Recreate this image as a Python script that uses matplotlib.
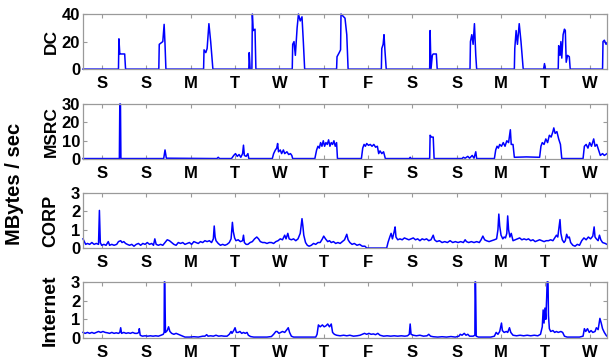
import matplotlib

matplotlib.use("Agg")
import matplotlib.pyplot as plt

plt.rcParams["font.family"] = ["Liberation Sans Narrow", "Liberation Sans", "DejaVu Sans"]
plt.rcParams["font.weight"] = "bold"

# day labels, one per day, starting on a Saturday
DAYS = ["S", "S", "M", "T", "W", "T", "F", "S", "S", "M", "T", "W"]
FIRST_TICK = 0.43   # position of first day tick (in days)
X_END = 11.82       # end of the trace (in days)

# (time in days, MBytes/sec)
DC = [(0, 0), (0.80, 0), (0.81, 22), (0.83, 11), (0.85, 11), (0.94, 11), (0.96, 0),
      (1.71, 0), (1.72, 18), (1.76, 19), (1.80, 20), (1.83, 32.5), (1.85, 18), (1.87, 0),
      (2.72, 0), (2.73, 14), (2.77, 12), (2.80, 15), (2.84, 33), (2.88, 20), (2.93, 0),
      (3.74, 0), (3.75, 12), (3.77, 0), (3.81, 0), (3.82, 40), (3.84, 28), (3.88, 29), (3.90, 0),
      (4.72, 0), (4.73, 18), (4.76, 20), (4.79, 10), (4.83, 30), (4.86, 40), (4.90, 35),
      (4.94, 38), (4.97, 20), (5.00, 0),
      (5.72, 0), (5.73, 9), (5.78, 12), (5.81, 14), (5.82, 40), (5.88, 38), (5.91, 37),
      (5.95, 25), (5.98, 0),
      (6.73, 0), (6.74, 15), (6.77, 18), (6.79, 25), (6.81, 14), (6.84, 0),
      (7.82, 0), (7.83, 28), (7.85, 0), (7.88, 10), (7.90, 11), (7.97, 11), (7.99, 0),
      (8.73, 0), (8.74, 20), (8.77, 25), (8.80, 18), (8.83, 33), (8.86, 10), (8.88, 0),
      (9.73, 0), (9.74, 15), (9.77, 28), (9.80, 18), (9.84, 33), (9.88, 20), (9.93, 0),
      (10.39, 0), (10.41, 4), (10.43, 0),
      (10.72, 0), (10.73, 17), (10.76, 10), (10.78, 20), (10.80, 8), (10.83, 25), (10.86, 29),
      (10.88, 28), (10.90, 5), (10.93, 10), (10.97, 9), (10.99, 0),
      (11.72, 0), (11.73, 20), (11.76, 21), (11.80, 18), (11.82, 19)]

MSRC = [(0, 0.3), (0.82, 0.3), (0.83, 30), (0.845, 30), (0.855, 0.3), (1.82, 0.3), (1.85, 5),
        (1.88, 0.5), (3.02, 0.3), (3.05, 1.0), (3.08, 0.3), (3.35, 0.3), (3.40, 2), (3.44, 3),
        (3.48, 1.5), (3.52, 2.5), (3.56, 1), (3.60, 3), (3.62, 7.6), (3.64, 2), (3.68, 1.5),
        (3.72, 3), (3.74, 0.3), (4.27, 0.3), (4.30, 3), (4.34, 5), (4.37, 6), (4.39, 8.5),
        (4.41, 4), (4.45, 5), (4.48, 3), (4.52, 5), (4.55, 3), (4.60, 4), (4.64, 2.5),
        (4.68, 3), (4.71, 2), (4.73, 0.3), (5.23, 0.3), (5.27, 5), (5.30, 7), (5.33, 6),
        (5.36, 9), (5.39, 7), (5.42, 10), (5.45, 7), (5.48, 9), (5.51, 8), (5.54, 10.5),
        (5.57, 7), (5.60, 9), (5.63, 8), (5.66, 10), (5.69, 7), (5.72, 9), (5.74, 0.3),
        (6.28, 0.3), (6.31, 6), (6.34, 8), (6.37, 7), (6.40, 8.5), (6.44, 7.5), (6.48, 8),
        (6.52, 7), (6.56, 8), (6.60, 6.5), (6.64, 7), (6.67, 3), (6.70, 4.5), (6.74, 3),
        (6.78, 4), (6.82, 0.3), (7.36, 0.3), (7.38, 1), (7.40, 0.3), (7.82, 0.3), (7.83, 13),
        (7.86, 12), (7.90, 12), (7.92, 0.3), (8.55, 0.3), (8.58, 1), (8.62, 0.5), (8.68, 1.5),
        (8.72, 0.5), (8.78, 2), (8.82, 0.5), (8.86, 4), (8.88, 0.3), (9.28, 0.3), (9.31, 5),
        (9.34, 7), (9.37, 6), (9.40, 8), (9.44, 7), (9.48, 9), (9.52, 7), (9.56, 10),
        (9.60, 9), (9.64, 16), (9.66, 8), (9.70, 8), (9.73, 1), (10.00, 1.2), (10.30, 1),
        (10.33, 7), (10.36, 9), (10.40, 8), (10.44, 11), (10.48, 9), (10.52, 13), (10.56, 12),
        (10.60, 15), (10.62, 17), (10.65, 14), (10.69, 15), (10.73, 11), (10.77, 8),
        (10.80, 0.3), (11.28, 0.3), (11.31, 7), (11.35, 8), (11.39, 6), (11.43, 9),
        (11.47, 7), (11.52, 11), (11.55, 7), (11.59, 8), (11.63, 5), (11.67, 2), (11.72, 3),
        (11.76, 2), (11.82, 3)]

CORP = [(0, 0.5), (0.03, 0.35), (0.06, 0.2), (0.1, 0.25), (0.15, 0.2), (0.2, 0.3), (0.25, 0.2),
        (0.3, 0.25), (0.35, 0.2), (0.37, 2.05), (0.39, 0.3), (0.42, 0.15), (0.47, 0.2),
        (0.52, 0.15), (0.57, 0.35), (0.6, 0.15), (0.65, 0.2), (0.7, 0.15), (0.76, 0.2),
        (0.8, 0.35), (0.85, 0.4), (0.88, 0.3), (0.92, 0.35), (0.96, 0.25), (1.0, 0.2),
        (1.05, 0.15), (1.1, 0.2), (1.15, 0.1), (1.2, 0.2), (1.25, 0.25), (1.3, 0.15),
        (1.35, 0.25), (1.4, 0.2), (1.45, 0.3), (1.5, 0.2), (1.55, 0.25), (1.59, 0.15),
        (1.62, 0.5), (1.65, 0.2), (1.7, 0.15), (1.75, 0.2), (1.8, 0.15), (1.85, 0.3),
        (1.9, 0.45), (1.95, 0.4), (2.0, 0.3), (2.05, 0.2), (2.1, 0.15), (2.15, 0.3),
        (2.2, 0.25), (2.25, 0.3), (2.3, 0.2), (2.35, 0.25), (2.4, 0.3), (2.45, 0.2),
        (2.5, 0.35), (2.55, 0.3), (2.6, 0.25), (2.65, 0.35), (2.7, 0.3), (2.75, 0.4),
        (2.8, 0.35), (2.85, 0.4), (2.9, 0.3), (2.94, 0.5), (2.96, 1.2), (2.98, 0.6),
        (3.0, 0.4), (3.05, 0.25), (3.1, 0.15), (3.15, 0.2), (3.2, 0.15), (3.25, 0.2),
        (3.3, 0.3), (3.34, 0.5), (3.37, 1.4), (3.39, 0.9), (3.42, 0.55), (3.45, 0.4),
        (3.5, 0.45), (3.55, 0.35), (3.6, 0.4), (3.62, 0.7), (3.64, 0.3), (3.68, 0.2),
        (3.72, 0.2), (3.77, 0.3), (3.82, 0.35), (3.87, 0.5), (3.92, 0.6), (3.96, 0.5),
        (4.0, 0.35), (4.05, 0.3), (4.1, 0.3), (4.15, 0.25), (4.2, 0.3), (4.25, 0.3),
        (4.3, 0.25), (4.35, 0.35), (4.4, 0.4), (4.45, 0.5), (4.5, 0.45), (4.55, 0.7),
        (4.58, 0.5), (4.62, 0.8), (4.65, 0.5), (4.7, 0.45), (4.75, 0.5), (4.8, 0.4),
        (4.85, 0.5), (4.9, 0.8), (4.94, 1.6), (4.96, 1.2), (4.98, 0.7), (5.02, 0.3),
        (5.06, 0.15), (5.1, 0.1), (5.15, 0.15), (5.2, 0.25), (5.25, 0.2), (5.3, 0.3),
        (5.35, 0.3), (5.40, 0.5), (5.43, 0.65), (5.47, 0.5), (5.52, 0.35), (5.56, 0.4),
        (5.6, 0.3), (5.65, 0.35), (5.7, 0.25), (5.75, 0.3), (5.8, 0.25), (5.85, 0.35),
        (5.9, 0.45), (5.95, 0.75), (5.98, 0.45), (6.02, 0.3), (6.07, 0.2), (6.12, 0.25),
        (6.18, 0.15), (6.24, 0.2), (6.3, 0.1), (6.36, 0.1), (6.40, 0.0), (6.85, 0.0),
        (6.88, 0.3), (6.92, 0.6), (6.95, 0.8), (6.98, 0.5), (7.02, 0.9), (7.04, 1.15),
        (7.06, 0.6), (7.1, 0.45), (7.15, 0.5), (7.2, 0.45), (7.25, 0.55), (7.3, 0.5),
        (7.35, 0.45), (7.4, 0.5), (7.45, 0.55), (7.5, 0.45), (7.55, 0.5), (7.6, 0.4),
        (7.65, 0.5), (7.7, 0.45), (7.75, 0.5), (7.8, 0.4), (7.85, 0.45), (7.9, 0.7),
        (7.93, 0.45), (7.98, 0.35), (8.04, 0.4), (8.1, 0.3), (8.16, 0.35), (8.22, 0.3),
        (8.28, 0.4), (8.34, 0.3), (8.4, 0.35), (8.46, 0.3), (8.52, 0.35), (8.58, 0.3),
        (8.62, 0.45), (8.65, 0.35), (8.7, 0.3), (8.76, 0.35), (8.82, 0.3), (8.88, 0.35),
        (8.94, 0.3), (8.98, 0.45), (9.02, 0.65), (9.06, 0.45), (9.1, 0.4), (9.16, 0.35),
        (9.22, 0.4), (9.28, 0.45), (9.33, 0.5), (9.36, 1.0), (9.38, 1.85), (9.40, 1.2),
        (9.43, 0.7), (9.47, 0.5), (9.5, 0.6), (9.53, 0.55), (9.56, 0.8), (9.58, 1.75),
        (9.60, 1.0), (9.63, 0.6), (9.66, 0.8), (9.7, 0.4), (9.75, 0.45), (9.8, 0.5),
        (9.85, 0.55), (9.9, 0.45), (9.95, 0.5), (10.0, 0.45), (10.05, 0.5), (10.1, 0.4),
        (10.15, 0.45), (10.2, 0.35), (10.25, 0.4), (10.3, 0.45), (10.35, 0.4), (10.4, 0.35),
        (10.45, 0.4), (10.5, 0.4), (10.55, 0.45), (10.6, 0.4), (10.64, 0.55), (10.68, 0.7),
        (10.71, 0.6), (10.74, 1.2), (10.76, 1.55), (10.78, 0.8), (10.81, 0.45), (10.85, 0.3),
        (10.88, 0.4), (10.91, 0.75), (10.94, 0.55), (10.97, 0.6), (11.0, 0.3), (11.05, 0.15),
        (11.1, 0.1), (11.15, 0.2), (11.2, 0.15), (11.25, 0.4), (11.3, 0.55), (11.35, 0.45),
        (11.4, 0.6), (11.45, 0.5), (11.5, 0.65), (11.53, 1.15), (11.55, 0.6), (11.58, 0.5),
        (11.62, 0.4), (11.65, 0.7), (11.68, 0.45), (11.72, 0.3), (11.78, 0.25), (11.82, 0.2)]

INTERNET = [(0, 0.3), (0.05, 0.25), (0.1, 0.3), (0.15, 0.25), (0.2, 0.3), (0.25, 0.25),
            (0.3, 0.3), (0.35, 0.35), (0.4, 0.3), (0.45, 0.35), (0.5, 0.3), (0.55, 0.28),
            (0.6, 0.25), (0.65, 0.3), (0.7, 0.25), (0.75, 0.28), (0.8, 0.25), (0.83, 0.3),
            (0.85, 0.55), (0.87, 0.25), (0.92, 0.3), (0.97, 0.25), (1.02, 0.28), (1.07, 0.25),
            (1.12, 0.3), (1.17, 0.25), (1.22, 0.25), (1.26, 0.3), (1.27, 0.5), (1.29, 0.15),
            (1.34, 0.1), (1.4, 0.12), (1.46, 0.1), (1.52, 0.12), (1.58, 0.1), (1.64, 0.12),
            (1.7, 0.1), (1.76, 0.15), (1.81, 0.2), (1.83, 0.3), (1.835, 3.0), (1.845, 3.0),
            (1.86, 0.3), (1.9, 0.4), (1.93, 0.6), (1.96, 0.35), (2.0, 0.25), (2.05, 0.2),
            (2.1, 0.25), (2.15, 0.2), (2.2, 0.15), (2.25, 0.1), (2.3, 0.05), (2.4, 0.05),
            (2.5, 0.07), (2.6, 0.05), (2.7, 0.1), (2.75, 0.1), (2.79, 0.18), (2.82, 0.1),
            (2.88, 0.12), (2.94, 0.1), (3.0, 0.15), (3.06, 0.1), (3.12, 0.12), (3.18, 0.1),
            (3.25, 0.1), (3.3, 0.2), (3.34, 0.35), (3.36, 0.25), (3.4, 0.4), (3.43, 0.55),
            (3.46, 0.3), (3.5, 0.3), (3.54, 0.35), (3.58, 0.25), (3.62, 0.3), (3.66, 0.25),
            (3.7, 0.3), (3.73, 0.15), (3.78, 0.08), (3.85, 0.05), (4.0, 0.05), (4.15, 0.05),
            (4.25, 0.08), (4.3, 0.2), (4.35, 0.35), (4.38, 0.35), (4.42, 0.25), (4.46, 0.3),
            (4.5, 0.35), (4.55, 0.3), (4.6, 0.45), (4.63, 0.55), (4.66, 0.3), (4.7, 0.1),
            (4.75, 0.05), (4.85, 0.05), (5.0, 0.05), (5.15, 0.05), (5.25, 0.05), (5.28, 0.2),
            (5.31, 0.7), (5.35, 0.6), (5.4, 0.7), (5.44, 0.6), (5.48, 0.65), (5.52, 0.75),
            (5.56, 0.6), (5.6, 0.75), (5.63, 0.3), (5.67, 0.2), (5.72, 0.15), (5.8, 0.12),
            (5.88, 0.15), (5.95, 0.12), (6.02, 0.15), (6.1, 0.1), (6.18, 0.12), (6.25, 0.15),
            (6.3, 0.2), (6.35, 0.25), (6.4, 0.2), (6.45, 0.25), (6.5, 0.2), (6.55, 0.22),
            (6.6, 0.18), (6.65, 0.25), (6.7, 0.15), (6.78, 0.1), (6.86, 0.12), (6.94, 0.1),
            (7.02, 0.12), (7.1, 0.1), (7.18, 0.12), (7.26, 0.1), (7.32, 0.12), (7.36, 0.2),
            (7.38, 0.75), (7.40, 0.2), (7.45, 0.15), (7.52, 0.12), (7.6, 0.15), (7.68, 0.1),
            (7.76, 0.12), (7.8, 0.2), (7.84, 0.1), (7.9, 0.07), (8.0, 0.05), (8.1, 0.07),
            (8.2, 0.05), (8.3, 0.08), (8.4, 0.05), (8.48, 0.1), (8.51, 0.2), (8.55, 0.15),
            (8.6, 0.25), (8.64, 0.15), (8.68, 0.2), (8.72, 0.1), (8.8, 0.1), (8.84, 0.15),
            (8.845, 3.0), (8.855, 3.0), (8.87, 0.1), (8.92, 0.05), (9.05, 0.05), (9.2, 0.05),
            (9.28, 0.1), (9.32, 0.3), (9.36, 0.2), (9.4, 0.35), (9.44, 0.8), (9.46, 0.4),
            (9.5, 0.3), (9.55, 0.35), (9.58, 0.3), (9.62, 0.55), (9.65, 0.3), (9.7, 0.15),
            (9.78, 0.12), (9.86, 0.15), (9.94, 0.12), (10.02, 0.15), (10.1, 0.12),
            (10.18, 0.15), (10.26, 0.12), (10.32, 0.2), (10.36, 0.6), (10.38, 1.5),
            (10.40, 0.8), (10.42, 1.6), (10.44, 1.0), (10.46, 2.2), (10.47, 3.0), (10.49, 3.0),
            (10.50, 1.2), (10.52, 0.5), (10.55, 0.35), (10.6, 0.4), (10.64, 0.3), (10.68, 0.35),
            (10.72, 0.3), (10.78, 0.35), (10.82, 0.3), (10.86, 0.1), (10.92, 0.05),
            (11.05, 0.05), (11.2, 0.05), (11.28, 0.1), (11.31, 0.5), (11.34, 0.35),
            (11.38, 0.5), (11.42, 0.3), (11.46, 0.4), (11.5, 0.3), (11.55, 0.35), (11.58, 0.55),
            (11.62, 0.45), (11.66, 1.05), (11.69, 0.8), (11.72, 0.5), (11.76, 0.3),
            (11.8, 0.15), (11.82, 0.1)]

# name, series, y max, y ticks, label size
PANELS = [
    ("DC", DC, 40, [0, 20, 40], 12.5),
    ("MSRC", MSRC, 30, [0, 10, 20, 30], 12.5),
    ("CORP", CORP, 3, [0, 1, 2, 3], 13),
    ("Internet", INTERNET, 3, [0, 1, 2, 3], 14),
]
# axes boxes [left, bottom, width, height] in figure fractions
BOXES = [
    [0.1363, 0.808, 0.8604, 0.153],
    [0.1363, 0.558, 0.8604, 0.153],
    [0.1363, 0.311, 0.8604, 0.153],
    [0.1363, 0.061, 0.8604, 0.156],
]
GRAY = "#9a9a9a"

fig = plt.figure(figsize=(6.09, 3.6), dpi=100)
ticks = [FIRST_TICK + k for k in range(len(DAYS))]

for (name, series, ymax, yt, lsize), box in zip(PANELS, BOXES):
    ax = fig.add_axes(box)
    t = [p[0] for p in series]
    v = [p[1] for p in series]
    ax.plot(t, v, color="#0000ff", linewidth=1.1, clip_on=False)
    ax.set_xlim(0, X_END)
    ax.set_ylim(0, ymax)
    ax.set_xticks(ticks)
    ax.set_xticklabels(DAYS)
    ax.set_yticks(yt)
    ax.tick_params(direction="in", length=3, width=0.8, top=True, right=True,
                   color=GRAY, labelsize=12)
    ax.tick_params(axis="x", pad=5)
    ax.tick_params(axis="y", pad=2)
    for s in ax.spines.values():
        s.set_color(GRAY)
        s.set_linewidth(0.9)
    ax.set_ylabel(name, fontsize=lsize, fontweight="bold",
                  family=["Liberation Sans", "DejaVu Sans"])
    ax.yaxis.set_label_coords(-0.046, 0.5)

fig.text(0.024, 0.49, "MBytes / sec", rotation=90, ha="center", va="center",
         fontsize=14.5, fontweight="bold", family=["Liberation Sans", "DejaVu Sans"])

fig.savefig("out.png", dpi=100)
